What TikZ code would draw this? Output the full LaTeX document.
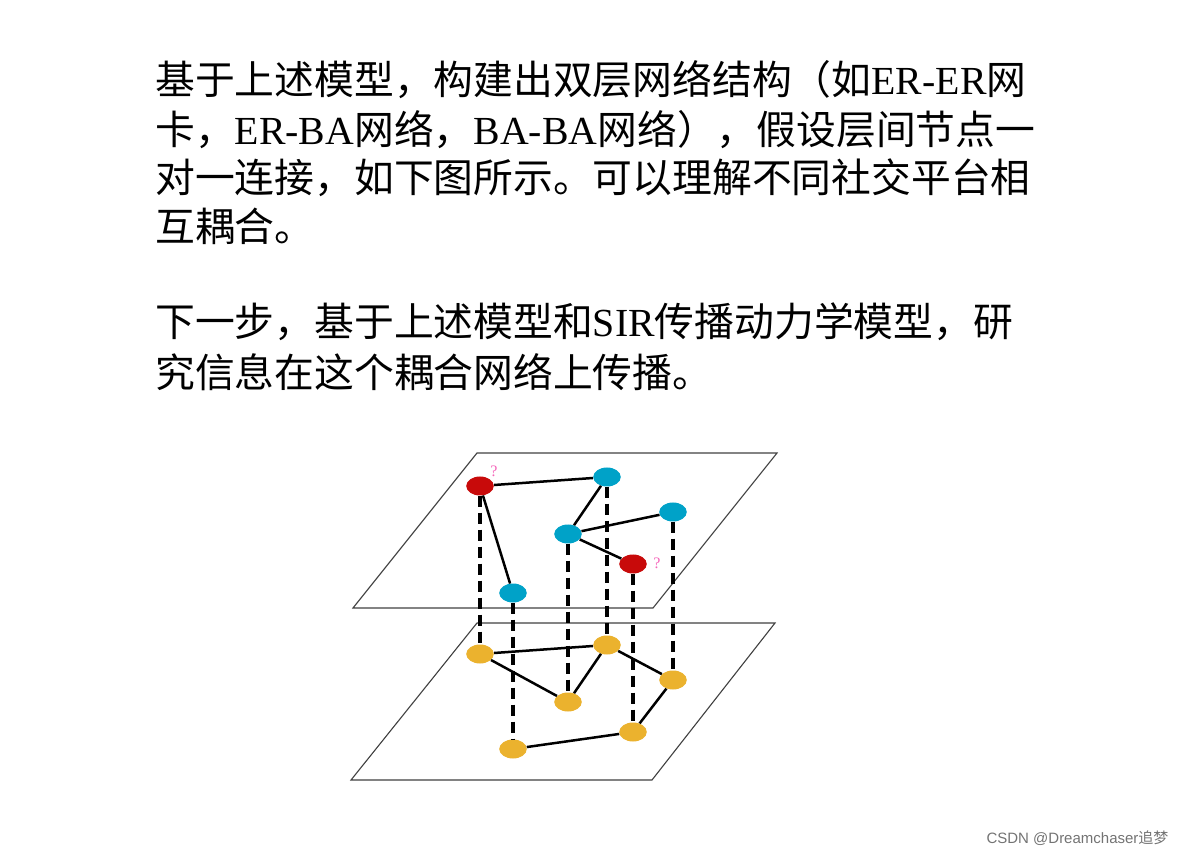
\documentclass[tikz,border=0pt]{standalone}
\usepackage{fontspec}
\setmainfont{Liberation Serif}
\newfontfamily\cjk{Noto Sans CJK SC}
\definecolor{nblue}{HTML}{00A2C8}
\definecolor{nred}{HTML}{C80A0A}
\definecolor{nyel}{HTML}{EBB22E}
\begin{document}
\begin{tikzpicture}[x=1pt,y=-1pt,
  txt/.style={anchor=west,inner sep=0pt,font=\fontsize{39.8}{42}\selectfont},
  plane/.style={draw=black!75,line width=1.1pt},
  vert/.style={circle,minimum width=0pt,inner sep=0pt,xscale=1.45,minimum size=19pt,draw=none},
  blue/.style={vert,fill=nblue},
  red/.style={vert,fill=nred},
  yel/.style={vert,fill=nyel},
  edge/.style={line width=2.5pt},
  link/.style={line width=3.5pt,dash pattern=on 11pt off 6pt},
  qm/.style={text=magenta!60,font=\fontsize{16}{16}\selectfont}]
\useasboundingbox (0,0) rectangle (1187,858);
\node[txt] (l1) at (155,80) {{\cjk 基于上述模型，构建出双层网络结构（如}ER-ER{\cjk 网}};
\node[txt] (l2) at (155,130) {{\cjk 卡，}ER-BA{\cjk 网络，}BA-BA{\cjk 网络），假设层间节点一}};
\node[txt] (l3) at (155,178) {{\cjk 对一连接，如下图所示。可以理解不同社交平台相}};
\node[txt] (l4) at (155,226) {{\cjk 互耦合。}};
\node[txt] (l5) at (155,322) {{\cjk 下一步，基于上述模型和}SIR{\cjk 传播动力学模型，研}};
\node[txt] (l6) at (155,372) {{\cjk 究信息在这个耦合网络上传播。}};
% planes
\draw[plane,fill=white] (351,780) -- (477,623) -- (775,623) -- (652,780) -- cycle;
% bottom nodes
\node[yel] (y1) at (480,654) {};
\node[yel] (y2) at (607,645) {};
\node[yel] (y3) at (673,680) {};
\node[yel] (y4) at (568,702) {};
\node[yel] (y5) at (633,732) {};
\node[yel] (y6) at (513,749) {};
\draw[edge] (y1)--(y2) (y1)--(y4) (y4)--(y2) (y2)--(y3) (y3)--(y5) (y5)--(y6);
\draw[plane] (353,608) -- (477,453) -- (777,453) -- (653,608) -- cycle;
\node[red] (r1) at (480,486) {};
\node[blue] (b1) at (607,477) {};
\node[blue] (b2) at (673,512) {};
\node[blue] (b3) at (568,534) {};
\node[red] (r2) at (633,564) {};
\node[blue] (b4) at (513,593) {};
\draw[edge] (r1)--(b1) (r1)--(b4) (b1)--(b3) (b3)--(b2) (b3)--(r2);
\draw[link] (r1.south)--(y1.north) (b4.south)--(y6.north) (b3.south)--(y4.north)
  (b1.south)--(y2.north) (r2.south)--(y5.north) (b2.south)--(y3.north);
\node[qm] (q1) at (494,471) {?};
\node[qm] (q2) at (657,563) {?};
\node[anchor=east,text=black!55,font=\fontsize{15}{15}\selectfont] (wm) at (1172,838) {\fontspec{Liberation Sans}CSDN @Dreamchaser{\cjk 追梦}};
\end{tikzpicture}
\end{document}
